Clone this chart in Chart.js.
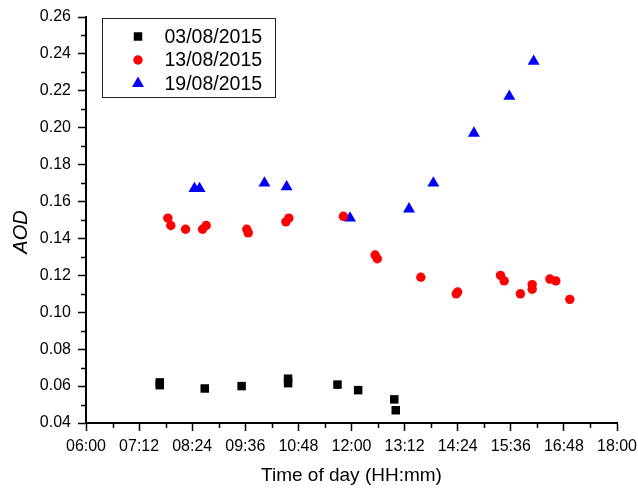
<!DOCTYPE html>
<html>
<head>
<meta charset="utf-8">
<script src="https://cdn.jsdelivr.net/npm/chart.js@4/dist/chart.umd.min.js"></script>
<style>
  html, body { margin: 0; padding: 0; background: #fff; }
  #wrap { width: 638px; height: 491px; }
</style>
</head>
<body>
<div id="wrap"><canvas id="c" width="638" height="491"></canvas></div>
<script>
// Series labels (measurement dates)
const seriesLabels = ['03/08/2015', '13/08/2015', '19/08/2015'];

// 03/08/2015
const times0308 = ['07:40', '07:40', '08:41', '09:31', '10:34', '10:34', '11:41', '12:09', '12:58', '13:00'];
const aod0308   = [0.062, 0.0605, 0.0587, 0.060, 0.064, 0.0616, 0.0608, 0.0578, 0.0528, 0.0469];

// 13/08/2015
const times1308 = ['07:51', '07:55', '08:15', '08:38', '08:43', '09:38', '09:40', '10:31', '10:35', '11:49',
                   '12:32', '12:35', '13:34', '14:22', '14:24', '15:22', '15:27', '15:49', '16:05', '16:05',
                   '16:29', '16:37', '16:56'];
const aod1308   = [0.151, 0.147, 0.145, 0.145, 0.147, 0.145, 0.143, 0.149, 0.151, 0.152,
                   0.131, 0.129, 0.119, 0.110, 0.111, 0.120, 0.117, 0.110, 0.115, 0.1125,
                   0.118, 0.117, 0.107];

// 19/08/2015
const times1908 = ['08:27', '08:34', '10:02', '10:32', '11:58', '13:18', '13:51', '14:46', '15:34', '16:07'];
const aod1908   = [0.167, 0.167, 0.170, 0.168, 0.151, 0.156, 0.170, 0.197, 0.217, 0.236];

// Axis ranges and tick steps
const xStart = '06:00', xEnd = '18:00', xStepMinutes = 72;
const yMin = 0.04, yMax = 0.26, yStep = 0.02;

const FONT = "'Liberation Sans', Arial, Helvetica, sans-serif";

function toMinutes(s) { const [h, m] = s.split(':').map(Number); return h * 60 + m; }
function hhmm(v) {
  const h = Math.floor(v / 60), m = Math.round(v - h * 60);
  return String(h).padStart(2, '0') + ':' + String(m).padStart(2, '0');
}
function points(times, values) { return times.map((t, i) => ({ x: toMinutes(t), y: values[i] })); }

// Minor ticks halfway between the labelled ticks
const minorTicks = {
  id: 'minorTicks',
  afterDraw(chart) {
    const ctx = chart.ctx, xs = chart.scales.x, ys = chart.scales.y;
    const area = chart.chartArea;
    ctx.save();
    ctx.strokeStyle = '#000';
    ctx.lineWidth = 1.5;
    ctx.beginPath();
    for (let v = toMinutes(xStart) + xStepMinutes / 2; v < toMinutes(xEnd); v += xStepMinutes) {
      const px = Math.round(xs.getPixelForValue(v)) + 0.5;
      ctx.moveTo(px, area.bottom);
      ctx.lineTo(px, area.bottom + 5);
    }
    for (let i = 0; i < Math.round((yMax - yMin) / yStep); i++) {
      const py = Math.round(ys.getPixelForValue(yMin + (i + 0.5) * yStep)) + 0.5;
      ctx.moveTo(area.left, py);
      ctx.lineTo(area.left - 5, py);
    }
    ctx.stroke();
    ctx.restore();
  }
};

// Y axis title and the boxed legend inside the plot
const decorations = {
  id: 'decorations',
  afterDraw(chart) {
    const ctx = chart.ctx, area = chart.chartArea;
    ctx.save();
    ctx.fillStyle = '#000';
    ctx.font = 'italic 20px ' + FONT;
    ctx.textAlign = 'center';
    ctx.textBaseline = 'middle';
    ctx.translate(21, (area.top + area.bottom) / 2 + 12);
    ctx.rotate(-Math.PI / 2);
    ctx.fillText('AOD', 0, 0);
    ctx.restore();

    // legend box
    const bx = area.left + 16.5, by = area.top + 1.5, bw = 173, bh = 79;
    ctx.save();
    ctx.strokeStyle = '#222';
    ctx.lineWidth = 1;
    ctx.strokeRect(bx, by, bw, bh);
    const rowY = [by + 18, by + 41.5, by + 65];
    chart.data.datasets.forEach((ds, i) => {
      const mx = bx + 35.5, my = rowY[i];
      const opts = { pointStyle: ds.pointStyle, rotation: 0, radius: ds.pointRadius, borderWidth: 0 };
      ctx.fillStyle = ds.backgroundColor;
      ctx.strokeStyle = ds.borderColor;
      ctx.lineWidth = 0.01;
      if (Chart.helpers && Chart.helpers.drawPoint) {
        Chart.helpers.drawPoint(ctx, opts, mx, my);
      }
      ctx.fillStyle = '#000';
      ctx.font = '19.5px ' + FONT;
      ctx.textAlign = 'left';
      ctx.textBaseline = 'middle';
      ctx.fillText(ds.label, bx + 62, my + 1);
    });
    ctx.restore();
  }
};

const chart = new Chart(document.getElementById('c'), {
  type: 'scatter',
  data: {
    datasets: [
      { label: seriesLabels[0], data: points(times0308, aod0308), pointStyle: 'rect', pointRadius: 6,
        backgroundColor: '#000000', borderColor: '#000000', borderWidth: 0, pointHoverRadius: 6 },
      { label: seriesLabels[1], data: points(times1308, aod1308), pointStyle: 'circle', pointRadius: 4.7,
        backgroundColor: '#ff0000', borderColor: '#ff0000', borderWidth: 0, pointHoverRadius: 4.7 },
      { label: seriesLabels[2], data: points(times1908, aod1908), pointStyle: 'triangle', pointRadius: 6.9,
        backgroundColor: '#0000ff', borderColor: '#0000ff', borderWidth: 0, pointHoverRadius: 6.9 }
    ]
  },
  options: {
    responsive: false,
    devicePixelRatio: 1,
    animation: false,
    events: [],
    layout: { padding: { top: 17, right: 21, left: 0, bottom: 0 } },
    plugins: { legend: { display: false }, tooltip: { enabled: false } },
    scales: {
      x: {
        type: 'linear',
        min: toMinutes(xStart),
        max: toMinutes(xEnd),
        afterFit(scale) { scale.height = 68; scale.paddingLeft = 0; scale.paddingRight = 0; },
        ticks: {
          stepSize: xStepMinutes,
          autoSkip: false,
          maxRotation: 0,
          padding: 6,
          color: '#000',
          font: { family: FONT, size: 16 },
          callback: v => hhmm(v)
        },
        grid: { drawOnChartArea: false, drawTicks: true, tickLength: 8, tickWidth: 1.5, tickColor: '#000' },
        border: { display: true, color: '#000', width: 2 },
        title: { display: true, text: 'Time of day (HH:mm)', color: '#000',
                 font: { family: FONT, size: 19 }, padding: { top: 0, bottom: 4 } }
      },
      y: {
        type: 'linear',
        min: yMin,
        max: yMax,
        afterFit(scale) { scale.width = 86; },
        ticks: {
          stepSize: yStep,
          autoSkip: false,
          padding: 7,
          color: '#000',
          font: { family: FONT, size: 16 },
          callback: v => v.toFixed(2)
        },
        grid: { drawOnChartArea: false, drawTicks: true, tickLength: 8, tickWidth: 1.5, tickColor: '#000' },
        border: { display: true, color: '#000', width: 2 }
      }
    }
  },
  plugins: [minorTicks, decorations]
});
</script>
</body>
</html>
